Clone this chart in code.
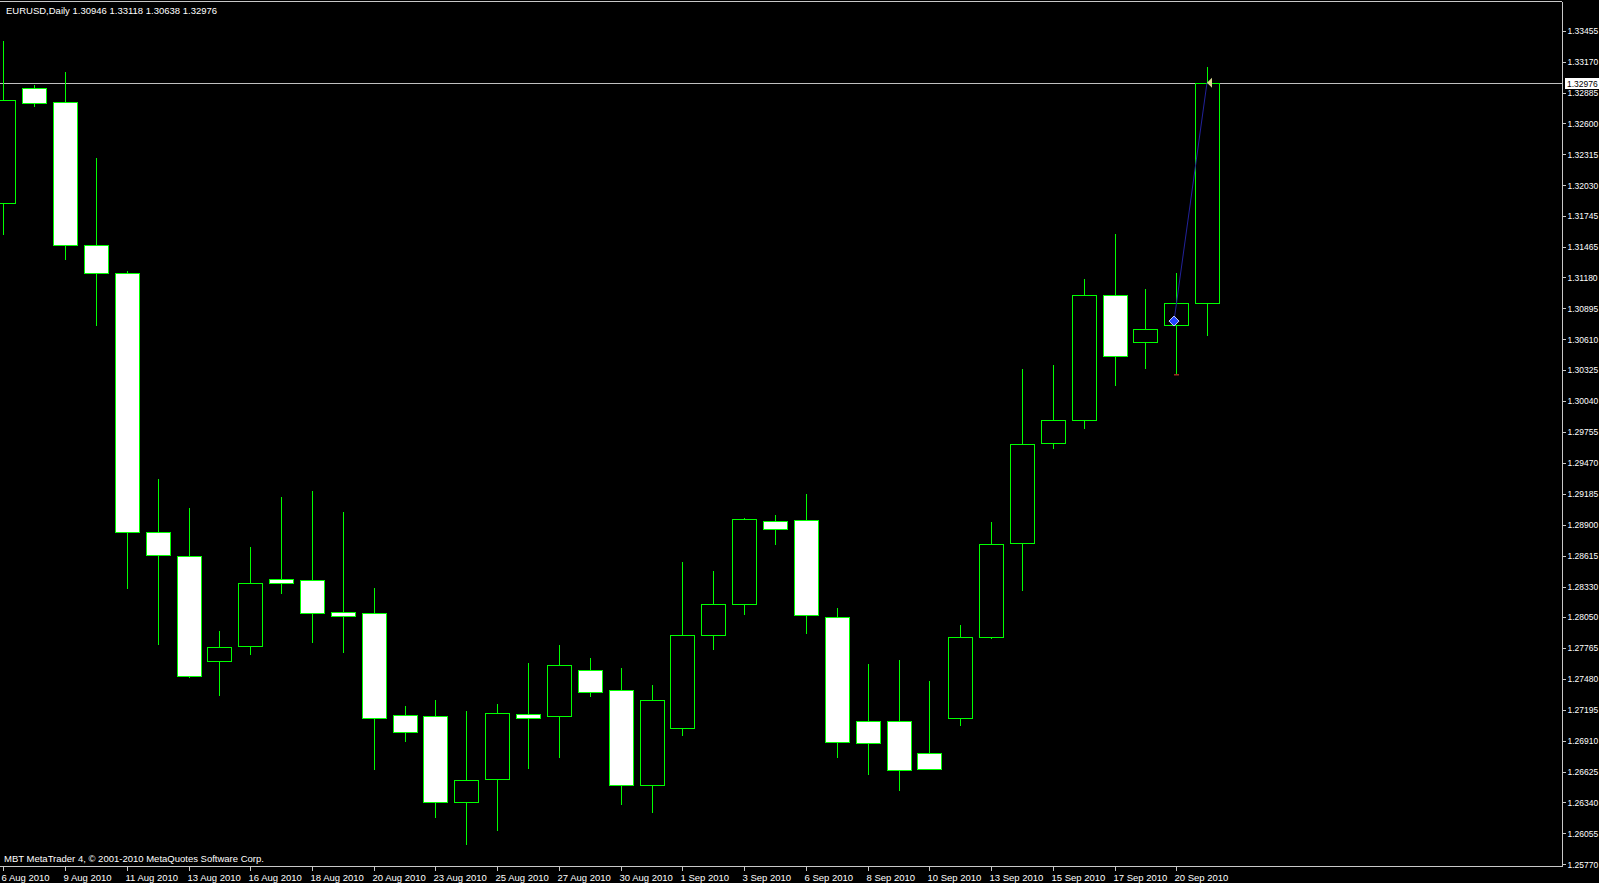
<!DOCTYPE html>
<html>
<head>
<meta charset="utf-8">
<script src="https://cdn.jsdelivr.net/npm/d3@7"></script>
<style>
  body { margin: 0; background: #000; overflow: hidden; }
  svg { display: block; }
  text { font-family: "Liberation Sans", Arial, sans-serif; fill: #fff; }
</style>
</head>
<body>
<div id="chart"></div>
<script>
// EURUSD daily bars (MBT feed, includes Sunday bars)
var dates = [
  "6 Aug 2010", "8 Aug 2010", "9 Aug 2010", "10 Aug 2010", "11 Aug 2010", "12 Aug 2010", "13 Aug 2010",
  "15 Aug 2010", "16 Aug 2010", "17 Aug 2010", "18 Aug 2010", "19 Aug 2010", "20 Aug 2010",
  "22 Aug 2010", "23 Aug 2010", "24 Aug 2010", "25 Aug 2010", "26 Aug 2010", "27 Aug 2010",
  "29 Aug 2010", "30 Aug 2010", "31 Aug 2010", "1 Sep 2010", "2 Sep 2010", "3 Sep 2010",
  "5 Sep 2010", "6 Sep 2010", "7 Sep 2010", "8 Sep 2010", "9 Sep 2010", "10 Sep 2010",
  "12 Sep 2010", "13 Sep 2010", "14 Sep 2010", "15 Sep 2010", "16 Sep 2010", "17 Sep 2010",
  "19 Sep 2010", "20 Sep 2010", "21 Sep 2010"
];
var opens = [
  1.31866, 1.32924, 1.32800, 1.31481, 1.31218, 1.28830, 1.28614,
  1.27645, 1.27787, 1.28398, 1.28388, 1.28096, 1.28087,
  1.27147, 1.27137, 1.26348, 1.26555, 1.27156, 1.27137,
  1.27561, 1.27373, 1.26499, 1.27025, 1.27881, 1.28172,
  1.28934, 1.28943, 1.28049, 1.27093, 1.27093, 1.26799,
  1.27119, 1.27870, 1.28736, 1.29657, 1.29864, 1.31021,
  1.30581, 1.30739, 1.30946
];
var highs = [
  1.33360, 1.32954, 1.33071, 1.32281, 1.31240, 1.29319, 1.29055,
  1.27917, 1.28699, 1.29160, 1.29207, 1.29017, 1.28313,
  1.27232, 1.27288, 1.27185, 1.27251, 1.27626, 1.27796,
  1.27673, 1.27576, 1.27420, 1.28557, 1.28473, 1.28962,
  1.28990, 1.29187, 1.28134, 1.27617, 1.27655, 1.27457,
  1.27975, 1.28924, 1.30334, 1.30372, 1.31162, 1.31585,
  1.31074, 1.31218, 1.33118
];
var lows = [
  1.31571, 1.32754, 1.31341, 1.30732, 1.28304, 1.27796, 1.27490,
  1.27325, 1.27702, 1.28266, 1.27814, 1.27720, 1.26639,
  1.26893, 1.26197, 1.25944, 1.26075, 1.26648, 1.26752,
  1.27316, 1.26320, 1.26244, 1.26950, 1.27749, 1.28069,
  1.28717, 1.27890, 1.26752, 1.26593, 1.26442, 1.26639,
  1.27043, 1.27850, 1.28285, 1.29601, 1.29780, 1.30184,
  1.30334, 1.30287, 1.30638
];
var closes = [
  1.32816, 1.32791, 1.31479, 1.31218, 1.28830, 1.28623, 1.27504,
  1.27777, 1.28360, 1.28360, 1.28087, 1.28059, 1.27119,
  1.26987, 1.26348, 1.26546, 1.27166, 1.27119, 1.27608,
  1.27363, 1.26499, 1.27288, 1.27881, 1.28172, 1.28952,
  1.28858, 1.28069, 1.26902, 1.26884, 1.26639, 1.26648,
  1.27870, 1.28726, 1.29648, 1.29864, 1.31021, 1.30457,
  1.30706, 1.30942, 1.32976
];

var priceTicks = [
  "1.33455", "1.33170", "1.32885", "1.32600", "1.32315", "1.32030", "1.31745",
  "1.31465", "1.31180", "1.30895", "1.30610", "1.30325", "1.30040", "1.29755",
  "1.29470", "1.29185", "1.28900", "1.28615", "1.28330", "1.28050", "1.27765",
  "1.27480", "1.27195", "1.26910", "1.26625", "1.26340", "1.26055", "1.25770"
];
var dateTicks = [
  "6 Aug 2010", "9 Aug 2010", "11 Aug 2010", "13 Aug 2010", "16 Aug 2010", "18 Aug 2010",
  "20 Aug 2010", "23 Aug 2010", "25 Aug 2010", "27 Aug 2010", "30 Aug 2010", "1 Sep 2010",
  "3 Sep 2010", "6 Sep 2010", "8 Sep 2010", "10 Sep 2010", "13 Sep 2010", "15 Sep 2010",
  "17 Sep 2010", "20 Sep 2010"
];

// trade marks on the last two bars
var tradeOpen = { date: "20 Sep 2010", price: 1.30778 };
var tradeClose = { date: "21 Sep 2010", price: 1.32976 };
var stopLevel = { date: "20 Sep 2010", price: 1.30283 };

var symbol = "EURUSD,Daily";
var copyright = "MBT MetaTrader 4, \u00a9 2001-2010 MetaQuotes Software Corp.";

var width = 1599,
  height = 883,
  plotRight = 1562,
  plotBottom = 866;

var data = dates.map(function(d, i) {
  return { date: d, open: opens[i], high: highs[i], low: lows[i], close: closes[i] };
});

var step = 30.87;
var x = d3
  .scaleBand()
  .domain(dates)
  .range([3.3 - step / 2, 3.3 - step / 2 + step * dates.length])
  .paddingInner(0.22)
  .paddingOuter(0.11);
var y = d3
  .scaleLinear()
  .domain([1.2577, 1.33455])
  .range([864.3, 30.7]);

function cx(d) {
  return Math.round(x(d) + x.bandwidth() / 2);
}

var svg = d3
  .select("#chart")
  .append("svg")
  .attr("width", width)
  .attr("height", height)
  .style("background", "#000");

// clip candles to the plot area
svg
  .append("clipPath")
  .attr("id", "plot")
  .append("rect")
  .attr("x", 0)
  .attr("y", 2)
  .attr("width", plotRight)
  .attr("height", plotBottom - 2);

var plot = svg.append("g").attr("clip-path", "url(#plot)").attr("shape-rendering", "crispEdges");

// current price line
var last = data[data.length - 1];
plot
  .append("line")
  .attr("x1", 0)
  .attr("x2", plotRight)
  .attr("y1", Math.round(y(last.close)) + 0.5)
  .attr("y2", Math.round(y(last.close)) + 0.5)
  .attr("stroke", "#c0c0c0");

// wicks
plot
  .selectAll(".wick")
  .data(data)
  .enter()
  .append("line")
  .attr("class", "wick")
  .attr("x1", function(d) { return cx(d.date) + 0.5; })
  .attr("x2", function(d) { return cx(d.date) + 0.5; })
  .attr("y1", function(d) { return Math.round(y(d.high)); })
  .attr("y2", function(d) { return Math.round(y(d.low)); })
  .attr("stroke", "#00ff00");

// bodies: bearish white, bullish black, both outlined green
plot
  .selectAll(".body")
  .data(data)
  .enter()
  .append("rect")
  .attr("class", "body")
  .attr("x", function(d) { return cx(d.date) - 11.5; })
  .attr("width", 24)
  .attr("y", function(d) { return Math.round(y(Math.max(d.open, d.close))) + 0.5; })
  .attr("height", function(d) {
    return Math.max(1, Math.round(y(Math.min(d.open, d.close))) - Math.round(y(Math.max(d.open, d.close))));
  })
  .attr("fill", function(d) { return d.close < d.open ? "#ffffff" : "#000000"; })
  .attr("stroke", "#00ff00");

// trade line, open marker and close arrow
var tx1 = cx(tradeOpen.date) - 2,
  ty1 = y(tradeOpen.price),
  tx2 = cx(tradeClose.date),
  ty2 = y(tradeClose.price);
svg
  .append("line")
  .attr("x1", tx1)
  .attr("y1", ty1)
  .attr("x2", tx2)
  .attr("y2", ty2)
  .attr("stroke", "#22229a")
  .attr("stroke-width", 1);
svg
  .append("path")
  .attr("d", "M" + tx1 + "," + (ty1 - 5) + "L" + (tx1 + 5) + "," + ty1 + "L" + tx1 + "," + (ty1 + 5) + "L" + (tx1 - 5) + "," + ty1 + "Z")
  .attr("fill", "#2244ff")
  .attr("stroke", "#c8d0ff")
  .attr("stroke-width", 1);
svg
  .append("path")
  .attr("d", "M" + tx2 + "," + ty2 + "L" + (tx2 + 5) + "," + (ty2 - 5) + "L" + (tx2 + 5) + "," + (ty2 + 5) + "Z")
  .attr("fill", "#d8d890");
svg
  .append("line")
  .attr("x1", cx(stopLevel.date) - 2)
  .attr("x2", cx(stopLevel.date) + 3)
  .attr("y1", y(stopLevel.price))
  .attr("y2", y(stopLevel.price))
  .attr("stroke", "#9a3020")
  .attr("stroke-width", 1.5);

// frame
var frame = svg.append("g").attr("shape-rendering", "crispEdges").attr("stroke", "#c8c8c8");
frame.append("line").attr("x1", 0).attr("x2", plotRight).attr("y1", 1.5).attr("y2", 1.5);
frame.append("line").attr("x1", plotRight + 0.5).attr("x2", plotRight + 0.5).attr("y1", 1.5).attr("y2", plotBottom + 0.5);
frame.append("line").attr("x1", 0).attr("x2", plotRight).attr("y1", plotBottom + 0.5).attr("y2", plotBottom + 0.5);

// price axis
var yAxis = svg
  .append("g")
  .attr("transform", "translate(" + (plotRight + 0.5) + ",0)")
  .call(
    d3
      .axisRight(y)
      .tickValues(priceTicks.map(Number))
      .tickFormat(function(d, i) { return priceTicks[i]; })
      .tickSize(3)
      .tickPadding(2)
  );
yAxis.select(".domain").remove();
yAxis.selectAll("line").attr("stroke", "#c8c8c8").attr("shape-rendering", "crispEdges");
yAxis.selectAll("text").attr("fill", "#fff").style("font-size", "8.5px").style("font-family", "'Liberation Sans', Arial, sans-serif");

// current price box
var priceBox = svg.append("g").attr("transform", "translate(" + (plotRight + 3) + "," + Math.round(y(last.close)) + ")");
priceBox
  .append("rect")
  .attr("x", 0)
  .attr("y", -5)
  .attr("width", 34)
  .attr("height", 11)
  .attr("fill", "#fff");
priceBox
  .append("text")
  .attr("x", 2)
  .attr("y", 4)
  .style("fill", "#000")
  .style("font-size", "8.5px")
  .text(last.close.toFixed(5));

// date axis
var xAxis = svg
  .append("g")
  .attr("transform", "translate(0," + (plotBottom + 0.5) + ")")
  .call(
    d3
      .axisBottom(x)
      .tickValues(dateTicks)
      .tickSize(4)
      .tickPadding(4)
  );
xAxis.select(".domain").remove();
xAxis.selectAll(".tick").attr("transform", function(d) { return "translate(" + (cx(d) + 0.5) + ",0)"; });
xAxis.selectAll("line").attr("stroke", "#c8c8c8").attr("shape-rendering", "crispEdges");
xAxis
  .selectAll("text")
  .attr("fill", "#fff")
  .attr("x", -2)
  .style("text-anchor", "start")
  .style("font-size", "9.5px")
  .style("font-family", "'Liberation Sans', Arial, sans-serif");

// header and footer
svg
  .append("text")
  .attr("x", 6)
  .attr("y", 14)
  .style("font-size", "9.5px")
  .text(symbol + "  " + [last.open, last.high, last.low, last.close].map(function(v) { return v.toFixed(5); }).join(" "));
svg
  .append("text")
  .attr("x", 4)
  .attr("y", 862)
  .style("font-size", "9.5px")
  .text(copyright);
</script>
</body>
</html>
